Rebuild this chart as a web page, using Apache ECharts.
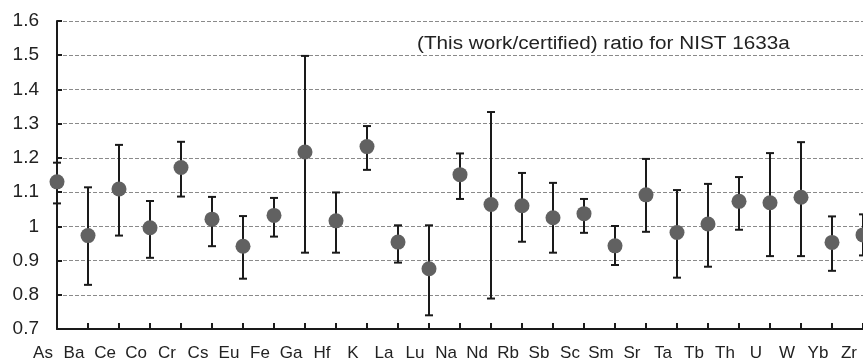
<!DOCTYPE html>
<html>
<head>
<meta charset="utf-8">
<script src="https://cdn.jsdelivr.net/npm/echarts@6/dist/echarts.min.js"></script>
<style>
html,body{margin:0;padding:0;background:#fff;}
#chart{width:863px;height:364px;}
</style>
</head>
<body>
<div id="chart"></div>
<script>
var categories = ['As','Ba','Ce','Co','Cr','Cs','Eu','Fe','Ga','Hf','K','La','Lu','Na','Nd','Rb','Sb','Sc','Sm','Sr','Ta','Tb','Th','U','W','Yb','Zr'];
var ratio = [1.130,0.973,1.109,0.996,1.172,1.021,0.942,1.032,1.217,1.016,1.233,0.954,0.876,1.151,1.064,1.060,1.025,1.037,0.943,1.092,0.982,1.007,1.073,1.069,1.085,0.953,0.975];
var upper = [1.186,1.114,1.238,1.074,1.247,1.086,1.030,1.083,1.498,1.099,1.293,1.003,1.003,1.213,1.334,1.156,1.127,1.080,1.001,1.197,1.106,1.124,1.144,1.214,1.246,1.029,1.035];
var lower = [1.067,0.829,0.973,0.908,1.087,0.942,0.847,0.970,0.923,0.923,1.165,0.894,0.740,1.080,0.789,0.955,0.923,0.981,0.887,0.984,0.850,0.882,0.990,0.913,0.913,0.870,0.915];
var yTicks = {min:0.7, max:1.6, interval:0.1};
var annotation = '(This work/certified) ratio for NIST 1633a';

var errData = categories.map(function(c,i){ return [i, lower[i], upper[i]]; });
var pointData = categories.map(function(c,i){ return [i, ratio[i]]; });

var chart = echarts.init(document.getElementById('chart'), null, {renderer:'canvas'});
chart.setOption({
  animation:false,
  backgroundColor:'#fff',
  textStyle:{fontFamily:'Liberation Sans, Arial, sans-serif'},
  grid:{left:57, right:-6, top:21, bottom:35, containLabel:false},
  xAxis:{
    type:'category',
    data:categories,
    boundaryGap:false,
    axisLine:{lineStyle:{color:'#1a1a1a', width:2}},
    axisTick:{inside:true, length:6, alignWithLabel:true, lineStyle:{color:'#1a1a1a', width:2}},
    axisLabel:{interval:0, fontSize:17, color:'#222', margin:16, padding:[0,28,0,0], fontFamily:'Liberation Sans, Arial, sans-serif'},
    splitLine:{show:false}
  },
  yAxis:{
    type:'value',
    min:yTicks.min, max:yTicks.max, interval:yTicks.interval,
    axisLine:{show:true, lineStyle:{color:'#1a1a1a', width:2}},
    axisTick:{show:true, inside:true, length:5, lineStyle:{color:'#1a1a1a', width:2}},
    axisLabel:{fontSize:19, color:'#222', margin:18, fontFamily:'Liberation Sans, Arial, sans-serif',
      formatter:function(v){ var r=Math.round(v*10)/10; return r===1?'1':r.toFixed(1); }},
    splitLine:{show:true, lineStyle:{color:'#8a8a8a', width:1, type:[4,2]}}
  },
  graphic:[{
    type:'text', x:417, y:35, scaleX:1.15,
    style:{text:annotation, fill:'#222', font:'18px "Liberation Sans", Arial, sans-serif'}
  }],
  series:[
    {
      type:'custom',
      data:errData,
      clip:false,
      z:2,
      renderItem:function(params, api){
        var idx = api.value(0);
        var top = api.coord([idx, api.value(2)]);
        var bot = api.coord([idx, api.value(1)]);
        var h = 4;
        var st = {stroke:'#1a1a1a', lineWidth:2};
        return {type:'group', children:[
          {type:'line', shape:{x1:top[0], y1:top[1], x2:bot[0], y2:bot[1]}, style:st},
          {type:'line', shape:{x1:top[0]-h, y1:top[1], x2:top[0]+h, y2:top[1]}, style:st},
          {type:'line', shape:{x1:bot[0]-h, y1:bot[1], x2:bot[0]+h, y2:bot[1]}, style:st}
        ]};
      }
    },
    {
      type:'scatter',
      data:pointData,
      symbol:'circle',
      symbolSize:15,
      z:3,
      clip:false,
      itemStyle:{color:'#616161', opacity:1}
    }
  ]
});
</script>
</body>
</html>
